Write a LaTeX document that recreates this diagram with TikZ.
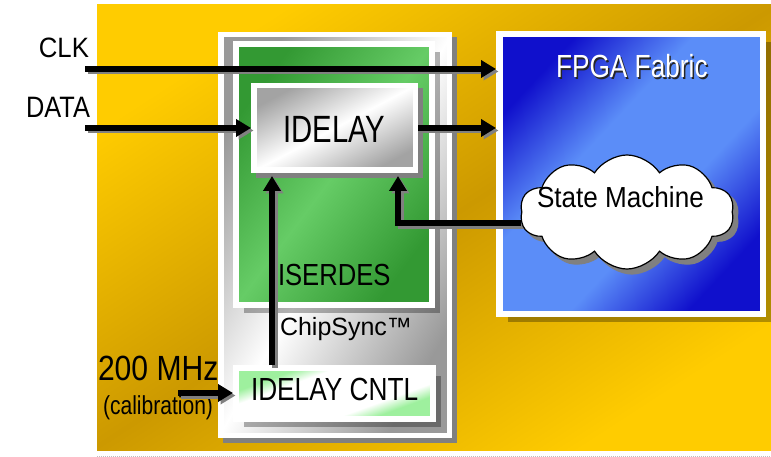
\documentclass[tikz,border=0pt]{standalone}
\usepackage{fontspec}
\setmainfont{Liberation Sans}
\usepackage{graphicx}
\usetikzlibrary{arrows.meta,shapes.symbols,shadows}
\definecolor{ygold}{HTML}{CC9900}
\definecolor{ylight}{HTML}{FFCC00}
\definecolor{gdark}{HTML}{339933}
\definecolor{glight}{HTML}{66CC66}
\definecolor{bdark}{HTML}{1010CC}
\definecolor{blight}{HTML}{5B8DF8}
\definecolor{lgreen}{HTML}{9EF09E}
\definecolor{shgray}{HTML}{808080}
\pgfdeclarehorizontalshading{cntlshade}{100bp}{color(0bp)=(lgreen); color(30bp)=(lgreen); color(37bp)=(white); color(63bp)=(white); color(70bp)=(lgreen); color(100bp)=(lgreen)}
\pgfdeclarehorizontalshading{blueshade}{100bp}{color(0bp)=(bdark); color(25bp)=(bdark); color(41bp)=(blight); color(59bp)=(blight); color(75bp)=(bdark); color(100bp)=(bdark)}
\newcommand\tx[3]{\scalebox{#1}[1]{\fontsize{#2pt}{#2pt}\selectfont #3}}
\pgfdeclarelayer{fg}
\pgfsetlayers{main,fg}
\newcommand\sarrow[2][]{\draw[sigsh,#1] #2; \draw[sig,#1] #2;}
\begin{document}
\begin{tikzpicture}[x=1pt,y=-1pt,
  wframe/.style={rectangle, draw=white, inner sep=0pt, line width=#1},
  solidsh/.style={general shadow={shadow xshift=5pt, shadow yshift=-5pt, fill=shgray, draw=shgray, line width=#1}},
  softsh/.style={general shadow={shadow xshift=#1, shadow yshift=-#1, fill=black, fill opacity=0.3}},
  lbl/.style={inner sep=0pt, outer sep=0pt, text=black},
  sig/.style={line width=6pt, -{Triangle[length=15pt,width=17pt]}},
  sigsh/.style={sig, draw=shgray, transform canvas={shift={(2.5pt,-2.5pt)}}}
]
\useasboundingbox (0,0) rectangle (771,457);
% background
\shade[top color=ylight, bottom color=ylight, middle color=ygold, shading angle=33] (97,5) rectangle (771,450);
\draw[black!25, line width=0.7pt, dash pattern=on 1pt off 1pt] (97,456) -- (771,456);

% ChipSync box
\node[wframe=5.5pt, minimum width=228.5pt, minimum height=400.5pt, solidsh=5.5pt,
      top color=black!40, bottom color=black!40, middle color=white, shading angle=60] (chip) at (335,235) {};
% ISERDES box
\node[wframe=6pt, minimum width=196pt, minimum height=261pt, softsh=8pt,
      top color=gdark, bottom color=gdark, middle color=glight, shading angle=53] (iser) at (334,174.5) {};
% IDELAY CNTL box
\node[wframe=6pt, minimum width=197pt, minimum height=51pt, softsh=8pt,
      shading=cntlshade, shading angle=-70] (cntl) at (334.5,393.5) {};
% FPGA fabric
\node[wframe=6.5pt, minimum width=263.5pt, minimum height=279.5pt, softsh=8.25pt,
      shading=blueshade, shading angle=-43] (fpga) at (631,174) {};
% IDELAY
\node[wframe=5.5pt, minimum width=161.5pt, minimum height=84.5pt, solidsh=5.5pt,
      top color=black!36, bottom color=black!36, middle color=white, shading angle=28] (idelay) at (334.5,128) {};

% labels inside ChipSync
\node[lbl, anchor=base west] (iserlbl) at (278,285) {\tx{0.84}{30.5}{ISERDES}};
\node[lbl, anchor=base west] (chiplbl) at (280,335) {\tx{1.0}{25}{ChipSync™}};
\node[lbl, anchor=base] (idelaylbl) at (334.5,143) {\tx{0.77}{38}{IDELAY}};
\node[lbl, anchor=base west] (cntllbl) at (251,400) {\tx{0.82}{32}{IDELAY CNTL}};

% FPGA label with dark shadow
\node[lbl, anchor=base west, text=black!85] (fpgash) at (557.5,79.5) {\tx{0.82}{32}{FPGA Fabric}};
\node[lbl, anchor=base west, text=white] (fpgalbl) at (556,78) {\tx{0.82}{32}{FPGA Fabric}};

% cloud (foreground layer)
\begin{pgfonlayer}{fg}
\node[cloud, cloud puffs=10, cloud puff arc=115, aspect=1.85, minimum width=214pt, minimum height=114pt,
      draw=black, fill=white, line width=1.2pt, solidsh=1.2pt] (sm) at (627,212) {};
\node[lbl, anchor=base west] (smlbl) at (537,208) {\tx{0.9}{29}{State Machine}};
\end{pgfonlayer}

% outside labels
\node[lbl, anchor=base east] (clklbl) at (89,58) {\tx{0.92}{28}{CLK}};
\node[lbl, anchor=base east] (datalbl) at (90,118) {\tx{0.86}{29.5}{DATA}};
\node[lbl, anchor=base west] (mhzlbl) at (98,380) {\tx{0.86}{35}{200 MHz}};
\node[lbl, anchor=base west] (callbl) at (103,414.5) {\tx{0.81}{26}{(calibration)}};

% connectors
\coordinate (clk) at (85,69);
\coordinate (data) at (85,128);
\coordinate (mhz) at (178,393);
\coordinate (upx) at (272,0);
\sarrow{(clk) -- (clk -| fpga.west)}
\sarrow{(data) -- (data -| idelay.west)}
\sarrow{(idelay.east) -- (idelay.east -| fpga.west)}
\sarrow[shorten >=3pt]{(upx |- cntl.north) -- (upx |- idelay.south)}
\sarrow[shorten >=3pt]{([yshift=-11pt]sm.west) -| ([xshift=63.5pt]idelay.south)}
\sarrow{(mhz) -- (mhz -| cntl.west)}
\end{tikzpicture}
\end{document}
